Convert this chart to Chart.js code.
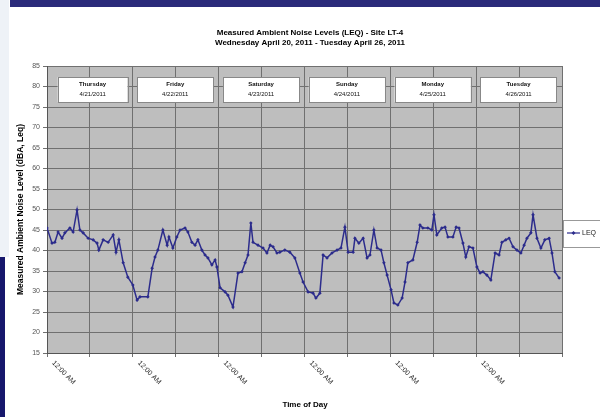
<!DOCTYPE html>
<html>
<head>
    <title>Measured Ambient Noise Levels</title>
    <script src="https://cdn.jsdelivr.net/npm/chart.js"></script>
    <style>
        body { margin: 0; background: #ffffff; }
        .frame { position: relative; width: 600px; height: 417px; overflow: hidden; }
        .bar-top { position: absolute; left: 10px; top: 0; width: 590px; height: 7px; background: #2a2a7a; }
        .strip-left { position: absolute; left: 0; top: 0; width: 9px; height: 257px; background: #eef2f7; }
        .bar-left { position: absolute; left: 0; top: 257px; width: 5px; height: 160px; background: #16176c; }
    </style>
</head>
<body>
<div class="frame">
    <canvas id="noiseChart" width="600" height="417"></canvas>
    <div class="strip-left"></div>
    <div class="bar-top"></div>
    <div class="bar-left"></div>
</div>

<script>
// hours since Thursday 4/21/2011 12:00 AM
var hours = [0.0, 1.4, 2.2, 3.1, 4.2, 5.0, 6.4, 7.3, 8.4, 9.2, 10.1, 11.5, 12.9, 14.0, 14.5, 15.7,
    17.1, 18.5, 19.3, 20.1, 21.3, 22.6, 24.0, 25.2, 26.0, 28.2, 29.4, 30.2, 31.0, 32.4, 33.6, 34.1,
    35.2, 36.3, 37.2, 38.6, 39.4, 40.5, 41.4, 42.2, 43.3, 44.2, 45.0, 46.1, 47.0, 47.5, 48.4, 49.8,
    50.6, 52.0, 53.4, 54.5, 55.4, 56.2, 57.0, 57.6, 59.0, 60.4, 61.5, 62.4, 63.2, 64.3, 65.1, 66.5,
    67.9, 69.3, 70.7, 71.6, 73.0, 74.4, 75.2, 76.3, 77.2, 78.3, 79.7, 81.1, 82.2, 83.3, 84.2, 85.6,
    86.1, 87.2, 88.4, 89.5, 90.3, 91.4, 92.3, 93.4, 94.2, 95.1, 96.2, 97.0, 98.1, 99.3, 100.1, 100.9,
    102.3, 103.5, 104.3, 105.1, 106.5, 107.6, 108.2, 109.0, 110.4, 111.3, 112.1, 113.5, 114.4, 115.2,
    116.3, 117.1, 118.0, 119.1, 120.2, 121.1, 121.9, 123.0, 124.1, 125.3, 126.4, 127.2, 128.3, 129.2,
    130.3, 131.4, 132.5, 133.4, 134.2, 135.3, 135.9, 137.0, 138.1, 139.2, 140.4, 141.2, 142.0, 143.2];

var levels = [45.5, 41.8, 42.0, 44.5, 43.0, 44.3, 45.5, 44.5, 49.9, 45.0, 44.3, 43.0, 42.6, 41.8, 40.1, 42.6,
    42.0, 43.8, 39.6, 42.6, 37.0, 33.5, 31.6, 27.9, 28.7, 28.7, 35.7, 38.4, 40.1, 45.0, 41.3, 43.3,
    40.6, 43.3, 45.0, 45.5, 44.5, 42.0, 41.3, 42.6, 40.1, 38.9, 38.2, 36.5, 37.7, 36.0, 30.9, 29.9,
    29.1, 26.2, 34.5, 34.8, 37.0, 38.9, 46.7, 42.0, 41.3, 40.6, 39.4, 41.3, 40.9, 39.4, 39.6, 40.1,
    39.6, 38.2, 34.5, 32.3, 29.9, 29.6, 28.4, 29.6, 38.9, 38.2, 39.4, 40.1, 40.6, 45.7, 39.6, 39.6,
    43.0, 41.8, 43.0, 38.2, 38.9, 45.0, 40.6, 40.1, 37.0, 34.0, 30.4, 27.2, 26.7, 28.4, 32.3, 37.0,
    37.7, 42.0, 46.2, 45.5, 45.5, 45.0, 48.7, 43.8, 45.5, 45.7, 43.3, 43.3, 45.7, 45.5,
    41.8, 38.4, 40.9, 40.6, 36.0, 34.5, 34.8, 34.0, 32.8, 39.4, 38.9, 42.0, 42.6, 43.0,
    40.9, 40.1, 39.4, 41.3, 43.0, 44.3, 48.7, 43.0, 40.6, 42.6, 43.0, 39.4, 34.8, 33.3];

var dayNames = ['Thursday', 'Friday', 'Saturday', 'Sunday', 'Monday', 'Tuesday'];
var dayDates = ['4/21/2011', '4/22/2011', '4/23/2011', '4/24/2011', '4/25/2011', '4/26/2011'];
var timeLabel = '12:00 AM';
var titleLines = ['Measured Ambient Noise Levels (LEQ) - Site LT-4',
    'Wednesday April 20, 2011 - Tuesday April 26, 2011'];
var yTitle = 'Measured Ambient Noise Level (dBA, Leq)';
var xTitle = 'Time of Day';
var seriesName = 'LEQ';

var lineColor = '#2c2c8c';

var decorPlugin = {
    id: 'decor',
    beforeDraw: function(chart) {
        var ctx = chart.ctx, a = chart.chartArea;
        ctx.save();
        ctx.fillStyle = '#ffffff';
        ctx.fillRect(0, 0, chart.width, chart.height);
        ctx.fillStyle = '#bebebe';
        ctx.fillRect(a.left, a.top, a.right - a.left, a.bottom - a.top);
        ctx.restore();
    },
    afterDraw: function(chart) {
        var ctx = chart.ctx, a = chart.chartArea;
        var xs = chart.scales.x;
        ctx.save();
        ctx.fillStyle = '#000';
        ctx.textAlign = 'center';
        ctx.textBaseline = 'middle';

        // title
        ctx.font = 'bold 8px Arial, "Liberation Sans", sans-serif';
        ctx.fillText(titleLines[0], 310, 33);
        ctx.fillText(titleLines[1], 310, 43);

        // y axis title
        ctx.save();
        ctx.translate(21, (a.top + a.bottom) / 2);
        ctx.rotate(-Math.PI / 2);
        ctx.font = 'bold 8.5px Arial, "Liberation Sans", sans-serif';
        ctx.fillText(yTitle, 0, 0);
        ctx.restore();

        // x axis title
        ctx.font = 'bold 8px Arial, "Liberation Sans", sans-serif';
        ctx.fillText(xTitle, 305, 405);

        // rotated time labels at each midnight
        ctx.font = '7px Arial, "Liberation Sans", sans-serif';
        ctx.fillStyle = '#222';
        ctx.textAlign = 'left';
        for (var d = 0; d < dayNames.length; d++) {
            var px = xs.getPixelForValue(d * 24);
            ctx.save();
            ctx.translate(px + 6, a.bottom + 9);
            ctx.rotate(Math.PI / 4);
            ctx.fillText(timeLabel, 0, 0);
            ctx.restore();
        }

        // day boxes
        ctx.textAlign = 'center';
        for (var i = 0; i < dayNames.length; i++) {
            var x0 = xs.getPixelForValue(i * 24 + (i === 0 ? 3 : 1.2));
            var x1 = xs.getPixelForValue(i * 24 + 22.5);
            ctx.fillStyle = '#ffffff';
            ctx.fillRect(x0, 77, x1 - x0, 25);
            ctx.strokeStyle = '#888';
            ctx.lineWidth = 1;
            ctx.strokeRect(Math.round(x0) + 0.5, 77.5, Math.round(x1 - x0), 25);
            ctx.fillStyle = '#111';
            ctx.font = 'bold 6px Arial, "Liberation Sans", sans-serif';
            ctx.fillText(dayNames[i], (x0 + x1) / 2, 84);
            ctx.font = '6px Arial, "Liberation Sans", sans-serif';
            ctx.fillText(dayDates[i], (x0 + x1) / 2, 94);
        }

        // legend
        ctx.fillStyle = '#ffffff';
        ctx.fillRect(563, 220, 40, 28);
        ctx.strokeStyle = '#999';
        ctx.strokeRect(563.5, 220.5, 40, 27);
        ctx.strokeStyle = lineColor;
        ctx.lineWidth = 1.2;
        ctx.beginPath();
        ctx.moveTo(567, 233);
        ctx.lineTo(580, 233);
        ctx.stroke();
        ctx.fillStyle = lineColor;
        ctx.beginPath();
        ctx.moveTo(573.5, 231);
        ctx.lineTo(575.5, 233);
        ctx.lineTo(573.5, 235);
        ctx.lineTo(571.5, 233);
        ctx.closePath();
        ctx.fill();
        ctx.fillStyle = '#222';
        ctx.textAlign = 'left';
        ctx.font = '7px Arial, "Liberation Sans", sans-serif';
        ctx.fillText(seriesName, 582, 233);

        ctx.restore();
    }
};

document.addEventListener('DOMContentLoaded', function() {
    var points = hours.map(function(h, i) { return { x: h, y: levels[i] }; });

    new Chart(document.getElementById('noiseChart'), {
        type: 'line',
        data: {
            datasets: [{
                label: seriesName,
                data: points,
                borderColor: lineColor,
                backgroundColor: lineColor,
                borderWidth: 1.5,
                pointStyle: 'rectRot',
                pointRadius: 1.8,
                pointBackgroundColor: lineColor,
                pointBorderWidth: 0,
                tension: 0,
                fill: false
            }]
        },
        options: {
            responsive: false,
            animation: false,
            layout: { padding: { left: 0, right: 38, top: 66, bottom: 0 } },
            plugins: {
                legend: { display: false },
                tooltip: { enabled: false }
            },
            scales: {
                x: {
                    type: 'linear',
                    min: 0,
                    max: 144,
                    afterFit: function(s) { s.height = 64; },
                    ticks: {
                        stepSize: 12,
                        autoSkip: false,
                        maxRotation: 0,
                        callback: function() { return ''; }
                    },
                    grid: { color: '#707070', lineWidth: 1, tickLength: 4 },
                    border: { color: '#555' }
                },
                y: {
                    min: 15,
                    max: 85,
                    afterFit: function(s) { s.width = 47; },
                    ticks: {
                        stepSize: 5,
                        padding: 3,
                        color: '#555',
                        font: { family: 'Arial, "Liberation Sans", sans-serif', size: 7 }
                    },
                    grid: { color: '#707070', lineWidth: 1, tickLength: 4 },
                    border: { color: '#555' }
                }
            }
        },
        plugins: [decorPlugin]
    });
});
</script>
</body>
</html>
